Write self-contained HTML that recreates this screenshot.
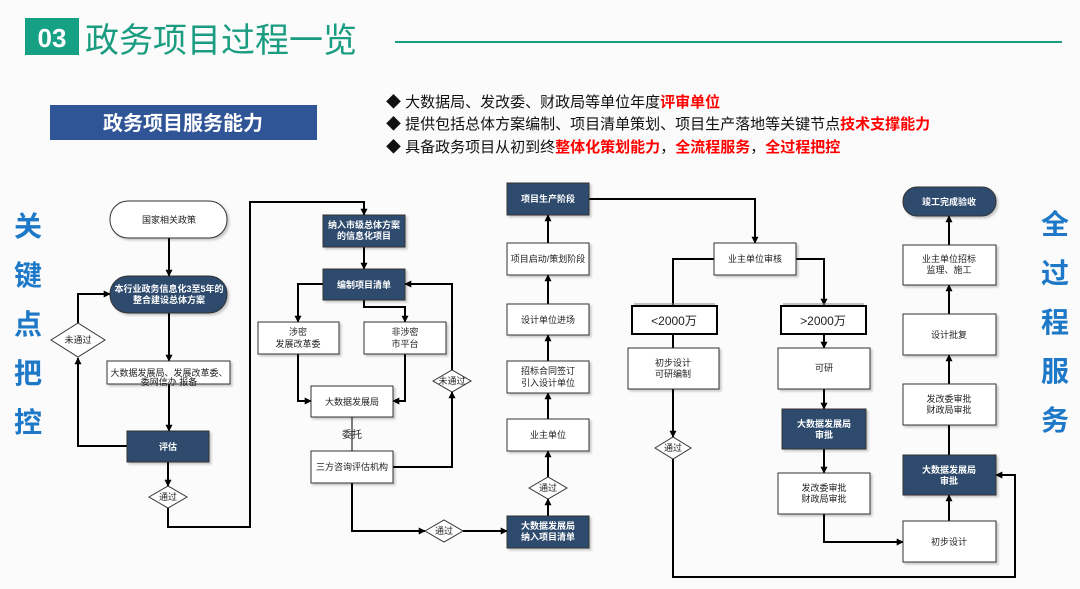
<!DOCTYPE html>
<html><head><meta charset="utf-8"><style>
html,body{margin:0;padding:0;background:#fff;}
svg{display:block;}
text{font-family:"Liberation Sans","Noto Sans CJK SC",sans-serif;}
</style></head><body>
<svg width="1080" height="589" viewBox="0 0 1080 589" xmlns="http://www.w3.org/2000/svg">
<defs>
<marker id="a" viewBox="0 0 10 10" refX="9" refY="5" markerWidth="7" markerHeight="7" orient="auto" markerUnits="userSpaceOnUse"><path d="M0,0 L10,5 L0,10 z" fill="#000"/></marker>
<filter id="s" x="-10%" y="-10%" width="130%" height="140%"><feDropShadow dx="2" dy="2" stdDeviation="1" flood-color="#000" flood-opacity="0.2"/></filter>
</defs>
<rect width="1080" height="589" fill="#fbfbfb"/>
<!-- header -->
<rect x="25" y="18" width="54" height="37" fill="#16a084"/>
<text x="52" y="47" font-size="26" font-weight="bold" fill="#fff" text-anchor="middle">03</text>
<text x="85" y="52" font-size="34" fill="#1a9c80" font-family="Noto Serif CJK SC,serif">政务项目过程一览</text>
<line x1="395" y1="42" x2="1062" y2="42" stroke="#1a9c80" stroke-width="2"/>
<rect x="50" y="105" width="267" height="35" fill="#2f5597"/>
<text x="183" y="130" font-size="20" font-weight="bold" fill="#fff" text-anchor="middle">政务项目服务能力</text>
<g font-size="15" fill="#111">
<text x="386" y="107">◆ 大数据局、发改委、财政局等单位年度<tspan fill="#f00" font-weight="bold">评审单位</tspan></text>
<text x="386" y="129">◆ 提供包括总体方案编制、项目清单策划、项目生产落地等关键节点<tspan fill="#f00" font-weight="bold">技术支撑能力</tspan></text>
<text x="386" y="152">◆ 具备政务项目从初到终<tspan fill="#f00" font-weight="bold">整体化策划能力</tspan>，<tspan fill="#f00" font-weight="bold">全流程服务</tspan>，<tspan fill="#f00" font-weight="bold">全过程把控</tspan></text>
</g>
<g font-size="28" font-weight="bold" fill="#1e78c8" text-anchor="middle">
<text x="28" y="236">关</text><text x="28" y="285">键</text><text x="28" y="334">点</text><text x="28" y="383">把</text><text x="28" y="432">控</text>
<text x="1055" y="234">全</text><text x="1055" y="283">过</text><text x="1055" y="332">程</text><text x="1055" y="381">服</text><text x="1055" y="430">务</text>
</g>

<!-- connectors -->
<g stroke="#000" stroke-width="2" fill="none">
<line x1="169" y1="238" x2="169" y2="276" marker-end="url(#a)"/>
<line x1="169" y1="313" x2="169" y2="361" marker-end="url(#a)"/>
<line x1="169" y1="384" x2="169" y2="431" marker-end="url(#a)"/>
<polyline points="127,446 78,446 78,358" marker-end="url(#a)"/>
<polyline points="78,323 78,294 110,294" marker-end="url(#a)"/>
<line x1="168" y1="462" x2="168" y2="486" marker-end="url(#a)"/>
<polyline points="168,508 168,527 250,527 250,202 364,202 364,215" marker-end="url(#a)"/>
<line x1="364" y1="247" x2="364" y2="269" marker-end="url(#a)"/>
<polyline points="323,284 298,284 298,322" marker-end="url(#a)"/>
<polyline points="364,300 364,307 405,307 405,322" marker-end="url(#a)"/>
<polyline points="298,354 298,401 311,401" marker-end="url(#a)"/>
<polyline points="405,354 405,401 393,401" marker-end="url(#a)"/>
<polyline points="393,467 452,467 452,392" marker-end="url(#a)"/>
<polyline points="452,370 452,284 405,284" marker-end="url(#a)"/>
<polyline points="352,483 352,531 425,531" marker-end="url(#a)"/>
<line x1="463" y1="531" x2="507" y2="531" marker-end="url(#a)"/>
<line x1="548" y1="516" x2="548" y2="499" marker-end="url(#a)"/>
<line x1="548" y1="477" x2="548" y2="451" marker-end="url(#a)"/>
<line x1="548" y1="419" x2="548" y2="393" marker-end="url(#a)"/>
<line x1="548" y1="361" x2="548" y2="335" marker-end="url(#a)"/>
<line x1="548" y1="304" x2="548" y2="275" marker-end="url(#a)"/>
<line x1="548" y1="243" x2="548" y2="215" marker-end="url(#a)"/>
<polyline points="589,199 755,199 755,243" marker-end="url(#a)"/>
<polyline points="714,259 673,259 673,305"/>
<polyline points="796,259 824,259 824,305" marker-end="url(#a)"/>
<line x1="673" y1="334" x2="673" y2="348"/>
<line x1="673" y1="389" x2="673" y2="437" marker-end="url(#a)"/>
<polyline points="673,459 673,577 1015,577 1015,475 996,475" marker-end="url(#a)"/>
<line x1="824" y1="334" x2="824" y2="348" marker-end="url(#a)"/>
<line x1="824" y1="389" x2="824" y2="409" marker-end="url(#a)"/>
<line x1="824" y1="449" x2="824" y2="473" marker-end="url(#a)"/>
<polyline points="824,514 824,542 903,542" marker-end="url(#a)"/>
<line x1="949" y1="521" x2="949" y2="495" marker-end="url(#a)"/>
<line x1="949" y1="455" x2="949" y2="425"/>
<line x1="949" y1="384" x2="949" y2="355" marker-end="url(#a)"/>
<line x1="949" y1="314" x2="949" y2="285" marker-end="url(#a)"/>
<line x1="949" y1="245" x2="949" y2="216" marker-end="url(#a)"/>
</g>
<line x1="352" y1="417" x2="352" y2="451" stroke="#000" stroke-width="1"/>

<!-- nodes -->
<g stroke="#333" stroke-width="1" filter="url(#s)">
<rect x="110" y="201" width="117" height="37" rx="18" fill="#fff"/>
<rect x="110" y="276" width="117" height="37" rx="18" fill="#2f4b6e"/>
<rect x="107" y="361" width="123" height="23" fill="#fff"/>
<rect x="127" y="431" width="82" height="31" fill="#2f4b6e"/>
<rect x="323" y="215" width="82" height="32" fill="#2f4b6e"/>
<rect x="323" y="269" width="82" height="31" fill="#2f4b6e"/>
<rect x="258" y="322" width="81" height="32" fill="#fff"/>
<rect x="364" y="322" width="82" height="32" fill="#fff"/>
<rect x="311" y="386" width="82" height="31" fill="#fff"/>
<rect x="311" y="451" width="82" height="32" fill="#fff"/>
<rect x="507" y="183" width="82" height="32" fill="#2f4b6e"/>
<rect x="507" y="243" width="82" height="32" fill="#fff"/>
<rect x="507" y="304" width="82" height="31" fill="#fff"/>
<rect x="507" y="361" width="82" height="32" fill="#fff"/>
<rect x="507" y="419" width="82" height="32" fill="#fff"/>
<rect x="507" y="516" width="82" height="32" fill="#2f4b6e"/>
<rect x="714" y="243" width="82" height="32" fill="#fff"/>
<rect x="628" y="348" width="91" height="41" fill="#fff"/>
<rect x="778" y="348" width="92" height="41" fill="#fff"/>
<rect x="782" y="409" width="84" height="40" fill="#2f4b6e"/>
<rect x="778" y="473" width="92" height="41" fill="#fff"/>
<rect x="903" y="187" width="93" height="29" rx="14" fill="#2f4b6e"/>
<rect x="903" y="245" width="93" height="40" fill="#fff"/>
<rect x="903" y="314" width="93" height="41" fill="#fff"/>
<rect x="903" y="384" width="93" height="41" fill="#fff"/>
<rect x="903" y="455" width="93" height="40" fill="#2f4b6e"/>
<rect x="903" y="521" width="93" height="41" fill="#fff"/>
</g>
<g stroke="#000" stroke-width="2" fill="#fff">
<rect x="632" y="306" width="85" height="28"/>
<rect x="781" y="306" width="85" height="28"/>
</g>
<g stroke="#888" stroke-width="1"><line x1="634" y1="304" x2="715" y2="304"/><line x1="783" y1="304" x2="864" y2="304"/></g>
<!-- diamonds -->
<g fill="#fff" stroke="#333" stroke-width="1">
<polygon points="51,340 78,323 105,340 78,357"/>
<polygon points="149,497 168,486 187,497 168,508"/>
<polygon points="433,381 452,370 471,381 452,392"/>
<polygon points="425,531 444,520 463,531 444,542"/>
<polygon points="529,488 548,477 567,488 548,499"/>
<polygon points="655,448 673,437 691,448 673,459"/>
</g>

<!-- labels -->
<g font-size="9" text-anchor="middle" fill="#222">
<text x="169" y="223">国家相关政策</text>
<text x="169" y="376">大数据发展局、发展改革委、</text>
<text x="169" y="386" dy="-1">委网信办 报备</text>
<text x="78" y="343">未通过</text>
<text x="168" y="500">通过</text>
<text x="298" y="335">涉密</text><text x="298" y="347">发展改革委</text>
<text x="405" y="335">非涉密</text><text x="405" y="347">市平台</text>
<text x="352" y="405">大数据发展局</text>
<text x="352" y="438" font-size="10">委托</text>
<text x="352" y="470">三方咨询评估机构</text>
<text x="452" y="384">未通过</text>
<text x="444" y="534">通过</text>
<text x="548" y="262">项目启动/策划阶段</text>
<text x="548" y="323">设计单位进场</text>
<text x="548" y="374">招标合同签订</text><text x="548" y="386">引入设计单位</text>
<text x="548" y="438">业主单位</text>
<text x="548" y="491">通过</text>
<text x="755" y="262">业主单位审核</text>
<text x="674" y="325" font-size="12">&lt;2000万</text>
<text x="823" y="325" font-size="12">&gt;2000万</text>
<text x="673" y="366">初步设计</text><text x="673" y="377">可研编制</text>
<text x="673" y="451">通过</text>
<text x="824" y="371">可研</text>
<text x="824" y="491">发改委审批</text><text x="824" y="502">财政局审批</text>
<text x="949" y="262">业主单位招标</text><text x="949" y="273">监理、施工</text>
<text x="949" y="338">设计批复</text>
<text x="949" y="402">发改委审批</text><text x="949" y="413">财政局审批</text>
<text x="949" y="545">初步设计</text>
</g>
<g font-size="9" text-anchor="middle" fill="#fff" font-weight="bold">
<text x="169" y="292">本行业政务信息化3至5年的</text><text x="169" y="303">整合建设总体方案</text>
<text x="168" y="450">评估</text>
<text x="364" y="228">纳入市级总体方案</text><text x="364" y="239">的信息化项目</text>
<text x="364" y="288">编制项目清单</text>
<text x="548" y="202">项目生产阶段</text>
<text x="548" y="529">大数据发展局</text><text x="548" y="540">纳入项目清单</text>
<text x="824" y="427">大数据发展局</text><text x="824" y="438">审批</text>
<text x="949" y="205">竣工完成验收</text>
<text x="949" y="473">大数据发展局</text><text x="949" y="484">审批</text>
</g>
</svg>
</body></html>
